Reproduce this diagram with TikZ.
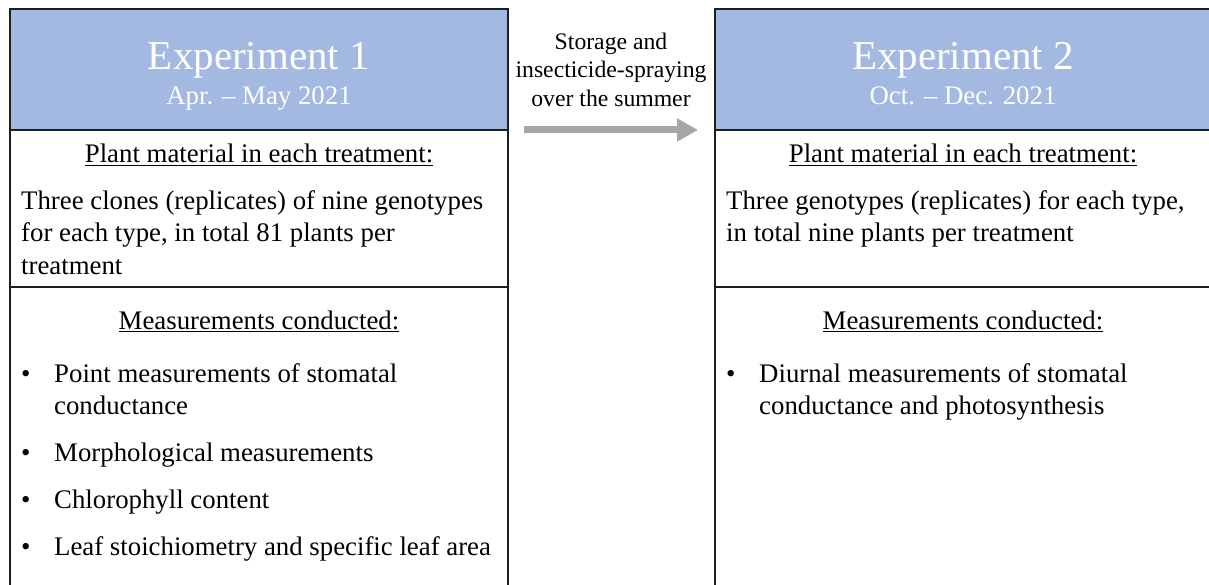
\documentclass[tikz,border=0pt]{standalone}
\usepackage{fontspec}
\setmainfont{Liberation Serif}
\usetikzlibrary{arrows.meta}
\definecolor{hdrblue}{RGB}{164,185,226}
\definecolor{arrowgray}{RGB}{166,166,166}
\definecolor{framecol}{RGB}{30,30,30}
\tikzset{
  frame/.style={draw=framecol, line width=1.3pt, inner sep=0, outer sep=0, anchor=north west},
  hdr/.style={frame, fill=hdrblue},
  title/.style={text=white, font=\fontsize{41}{48}\selectfont, anchor=base, inner sep=0},
  datetxt/.style={text=white, font=\fontsize{26.8}{32}\selectfont, anchor=base, inner sep=0},
  body/.style={font=\fontsize{26.8}{32}\selectfont, anchor=base west, inner sep=0},
  heading/.style={font=\fontsize{26.8}{32}\selectfont, anchor=base, inner sep=0},
  bul/.style={font=\fontsize{26.8}{32}\selectfont, anchor=base west, inner sep=0},
  midtxt/.style={font=\fontsize{23.7}{28}\selectfont, anchor=base, inner sep=0},
  flow/.style={draw=arrowgray, line width=7pt, -{Triangle[length=21pt,width=22pt]}}
}
\begin{document}
\begin{tikzpicture}[x=1pt,y=-1pt]
\useasboundingbox (0,0) rectangle (1209,585);
\clip (0,0) rectangle (1209,585);
% left experiment
\node[hdr, minimum width=498pt, minimum height=121pt] (h1) at (10,9) {};
\node[frame, minimum width=498pt, minimum height=157pt] (p1) at (10,130) {};
\node[frame, minimum width=498pt, minimum height=320pt] (m1) at (10,287) {};
% right experiment
\node[hdr, minimum width=496pt, minimum height=121pt] (h2) at (715,9) {};
\node[frame, minimum width=496pt, minimum height=157pt] (p2) at (715,130) {};
\node[frame, minimum width=496pt, minimum height=320pt] (m2) at (715,287) {};
% header texts
\node[title] (t1) at (259,70) {Experiment 1};
\node[datetxt] (d1) at (259,105) {Apr. – May 2021};
\node[title] (t2) at (963,70) {Experiment 2};
\node[datetxt] (d2) at (963,105) {Oct. – Dec. 2021};
% left body
\node[heading] (ph1) at (259,163) {\underline{Plant material in each treatment:}};
\node[body] (pa1) at (21,210) {Three clones (replicates) of nine genotypes};
\node[body] (pb1) at (21,242) {for each type, in total 81 plants per};
\node[body] (pc1) at (21,274) {treatment};
\node[heading] (mh1) at (259,329) {\underline{Measurements conducted:}};
\node[bul] (b11) at (21,382) {•};
\node[body] (l11) at (54,382) {Point measurements of stomatal};
\node[body] (l12) at (54,414) {conductance};
\node[bul] (b12) at (21,461) {•};
\node[body] (l13) at (54,461) {Morphological measurements};
\node[bul] (b13) at (21,508) {•};
\node[body] (l14) at (54,508) {Chlorophyll content};
\node[bul] (b14) at (21,555) {•};
\node[body] (l15) at (54,555) {Leaf stoichiometry and specific leaf area};
% right body
\node[heading] (ph2) at (963,163) {\underline{Plant material in each treatment:}};
\node[body] (pa2) at (726,210) {Three genotypes (replicates) for each type,};
\node[body] (pb2) at (726,242) {in total nine plants per treatment};
\node[heading] (mh2) at (963,329) {\underline{Measurements conducted:}};
\node[bul] (b21) at (726,382) {•};
\node[body] (l21) at (759,382) {Diurnal measurements of stomatal};
\node[body] (l22) at (759,414) {conductance and photosynthesis};
% middle
\node[midtxt] (s1) at (611,50) {Storage and};
\node[midtxt] (s2) at (611,78) {insecticide-spraying};
\node[midtxt] (s3) at (611,107) {over the summer};
\coordinate (a0) at (524,130);
\coordinate (a1) at (698,130);
\draw[flow] (a0) -- (a1);
\end{tikzpicture}
\end{document}
